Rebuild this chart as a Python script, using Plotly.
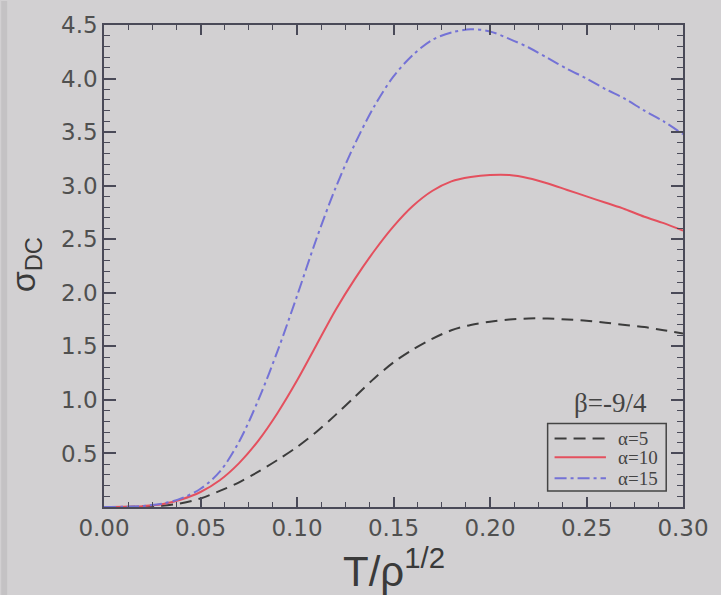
import plotly.graph_objects as go

# Reduced temperature T/rho^(1/2)
t = [0.00, 0.01, 0.02, 0.03, 0.04, 0.05, 0.06, 0.07, 0.08, 0.09, 0.10,
     0.11, 0.12, 0.13, 0.14, 0.15, 0.16, 0.17, 0.18, 0.19, 0.20,
     0.21, 0.22, 0.23, 0.24, 0.25, 0.26, 0.27, 0.28, 0.29, 0.30]

# DC conductivity for beta = -9/4
sigma_a5 = [0.0, 0.001, 0.004, 0.012, 0.035, 0.08, 0.15, 0.23, 0.33, 0.44, 0.56,
            0.70, 0.86, 1.03, 1.20, 1.35, 1.47, 1.57, 1.65, 1.70, 1.73,
            1.75, 1.76, 1.76, 1.75, 1.74, 1.72, 1.70, 1.68, 1.65, 1.62]
sigma_a10 = [0.0, 0.002, 0.008, 0.025, 0.07, 0.14, 0.25, 0.41, 0.62, 0.88, 1.18,
             1.51, 1.84, 2.13, 2.39, 2.62, 2.81, 2.95, 3.04, 3.08, 3.10,
             3.10, 3.07, 3.02, 2.96, 2.90, 2.84, 2.78, 2.71, 2.65, 2.58]
sigma_a15 = [0.0, 0.002, 0.01, 0.03, 0.08, 0.17, 0.33, 0.61, 1.00, 1.46, 1.97,
             2.50, 2.98, 3.39, 3.74, 4.02, 4.22, 4.36, 4.43, 4.46, 4.44,
             4.37, 4.29, 4.19, 4.09, 4.00, 3.90, 3.81, 3.70, 3.60, 3.48]

series_names = ["\u03b1=5", "\u03b1=10", "\u03b1=15"]
series_vals = [sigma_a5, sigma_a10, sigma_a15]
series_colors = ["#3c3c3c", "#e4505e", "#7472d6"]
series_dash = ["12px,7px", "solid", "12px,4px,3px,4px"]

x_ticks = [0.00, 0.05, 0.10, 0.15, 0.20, 0.25, 0.30]
y_ticks = [0.5, 1.0, 1.5, 2.0, 2.5, 3.0, 3.5, 4.0, 4.5]

bg = "#d2d0d2"
axis_col = "#4a4a58"
label_col = "#505050"

fig = go.Figure()
for name, vals, col, dash in zip(series_names, series_vals, series_colors, series_dash):
    fig.add_trace(go.Scatter(
        x=t, y=vals, name=name, mode="lines",
        line=dict(color=col, width=2, dash=dash, shape="spline", smoothing=0.9),
        showlegend=False,
    ))

fig.update_xaxes(
    range=[0, 0.30], tickvals=x_ticks, tickformat=".2f",
    showgrid=False, zeroline=False,
    showline=True, linecolor=axis_col, linewidth=1.5, mirror="allticks",
    ticks="inside", ticklen=10, tickwidth=1.5, tickcolor=axis_col,
    minor=dict(dtick=0.0125, ticks="inside", ticklen=5, tickwidth=1.2,
               tickcolor=axis_col, showgrid=False),
    tickfont=dict(family="DejaVu Sans", size=23, color=label_col),
)
fig.update_yaxes(
    range=[0, 4.5], tickvals=y_ticks, tickformat=".1f",
    showgrid=False, zeroline=False,
    showline=True, linecolor=axis_col, linewidth=1.5, mirror="allticks",
    ticks="inside", ticklen=12, tickwidth=1.5, tickcolor=axis_col,
    minor=dict(dtick=0.1, ticks="inside", ticklen=6, tickwidth=1.2,
               tickcolor=axis_col, showgrid=False),
    tickfont=dict(family="DejaVu Sans", size=23, color=label_col),
)

# Hand-drawn legend box in the lower right corner
legend_rows = [0.1423, 0.1031, 0.0598]
shapes = [
    dict(type="rect", xref="paper", yref="paper", x0=-0.1775, x1=-0.1672,
         y0=-0.2, y1=1.05, fillcolor="#c4c2c4", line=dict(width=0), layer="below"),
    dict(type="rect", xref="paper", yref="paper", x0=0.7662, x1=0.9710,
         y0=0.0330, y1=0.1732, line=dict(color="#444444", width=1.5)),
]
annotations = []
for yy, name, col, dash in zip(legend_rows, series_names, series_colors, series_dash):
    shapes.append(dict(type="line", xref="paper", yref="paper", x0=0.7782, x1=0.8669,
                       y0=yy, y1=yy, line=dict(color=col, width=2, dash=dash)))
    annotations.append(dict(xref="paper", yref="paper", x=0.884, y=yy, xanchor="left",
                            yanchor="middle", text=name, showarrow=False,
                            font=dict(family="Liberation Serif", size=19, color="#444444")))

annotations += [
    dict(xref="paper", yref="paper", x=0.8746, y=0.2165, xanchor="center", yanchor="middle",
         text="\u03b2=-9/4", showarrow=False,
         font=dict(family="Liberation Serif", size=27, color="#444444")),
    dict(xref="paper", yref="paper", x=-0.135, y=0.5031, xanchor="center", yanchor="middle",
         text="\u03c3<sub>DC</sub>", textangle=-90, showarrow=False,
         font=dict(family="Liberation Sans", size=34, color="#3a3a3a")),
    dict(xref="paper", yref="paper", x=0.5017, y=-0.1258, xanchor="center", yanchor="middle",
         text="T/\u03c1<sup>1/2</sup>", showarrow=False,
         font=dict(family="Liberation Sans", size=42, color="#3a3a3a")),
]

fig.update_layout(
    width=721, height=595,
    margin=dict(l=104, r=31, t=22, b=88),
    paper_bgcolor=bg, plot_bgcolor=bg,
    shapes=shapes, annotations=annotations,
    showlegend=False,
)

fig.write_html("out.html")
